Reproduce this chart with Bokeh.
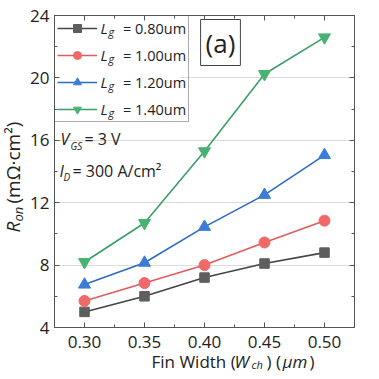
import math
from bokeh.plotting import figure
from bokeh.layouts import row, column
from bokeh.models import (FixedTicker, Range1d, LinearAxis, Legend, LegendItem, Label,
                          NumeralTickFormatter, BoxAnnotation)
from bokeh.embed import file_html
from bokeh.resources import INLINE

# ---- data ----
fin_width = [0.30, 0.35, 0.40, 0.45, 0.50]
lg_labels = ["0.80um", "1.00um", "1.20um", "1.40um"]
ron_080 = [5.0, 6.0, 7.2, 8.1, 8.8]
ron_100 = [5.7, 6.85, 8.0, 9.45, 10.85]
ron_120 = [6.75, 8.15, 10.45, 12.5, 15.05]
ron_140 = [8.2, 10.7, 15.3, 20.25, 22.6]
x_ticks = [0.30, 0.35, 0.40, 0.45, 0.50]
x_minor = [0.275, 0.325, 0.375, 0.425, 0.475, 0.525]
y_ticks = [4, 8, 12, 16, 20, 24]
y_minor = [6, 10, 14, 18, 22]
y_grid = [8, 12, 16, 20]

FONT = "Open Sans"
FRAME = "#555555"
TXT = "#222222"

p = figure(width=339, height=353, output_backend="svg", toolbar_location=None,
           x_range=Range1d(0.275, 0.525), y_range=Range1d(4, 24),
           min_border_left=30, min_border_right=9, min_border_top=15, min_border_bottom=26)
p.outline_line_color = FRAME
p.outline_line_width = 1

for ax, ticks, minor in [(p.xaxis[0], x_ticks, x_minor), (p.yaxis[0], y_ticks, y_minor)]:
    ax.ticker = FixedTicker(ticks=ticks, minor_ticks=minor)
    ax.axis_line_color = FRAME
    ax.major_tick_line_color = FRAME
    ax.minor_tick_line_color = FRAME
    ax.major_tick_in = 5
    ax.major_tick_out = 0
    ax.minor_tick_in = 3
    ax.minor_tick_out = 0
    ax.major_label_text_font = FONT
    ax.major_label_text_font_size = "17px"
    ax.major_label_text_color = TXT
p.xaxis[0].major_label_standoff = 8
p.yaxis[0].major_label_standoff = 5
p.xaxis[0].formatter = NumeralTickFormatter(format="0.00")

for loc, ticks, minor in [("above", x_ticks, x_minor), ("right", y_ticks, y_minor)]:
    ax = LinearAxis(ticker=FixedTicker(ticks=ticks, minor_ticks=minor),
                    major_label_overrides={t: "" for t in ticks}, major_label_standoff=0,
                    axis_line_color=FRAME, major_tick_line_color=FRAME,
                    minor_tick_line_color=FRAME, major_tick_in=5, major_tick_out=0,
                    minor_tick_in=3, minor_tick_out=0)
    p.add_layout(ax, loc)

p.xgrid.grid_line_color = None
p.ygrid.ticker = FixedTicker(ticks=y_grid)
p.ygrid.grid_line_color = "#dcdcdc"

# white backing for the legend box (hides the grid line behind it)
p.add_layout(BoxAnnotation(left=0, right=126, top=312, bottom=207,
                           left_units="screen", right_units="screen",
                           top_units="screen", bottom_units="screen",
                           fill_color="white", fill_alpha=1, line_color=None,
                           level="underlay"))

series = [
    (ron_080, "#444444", "#5e5e5e", "square", 9.5),
    (ron_100, "#e05c5c", "#f06868", "circle", 11),
    (ron_120, "#2c6cc4", "#3a7cd6", "triangle", 12),
    (ron_140, "#3a9e66", "#48b274", "inverted_triangle", 12),
]
items = []
for (vals, lc, mc, mk, sz), lab in zip(series, lg_labels):
    ln = p.line(fin_width, vals, line_color=lc, line_width=1.6)
    sc = p.scatter(fin_width, vals, marker=mk, size=sz, fill_color=mc, line_color=mc)
    items.append(LegendItem(label="= " + lab, renderers=[ln, sc]))

legend = Legend(items=items, location="top_left", margin=0, padding=2, spacing=7,
                glyph_width=40, glyph_height=20, label_height=20, label_standoff=26,
                label_text_font=FONT, label_text_font_size="14.5px", label_text_color=TXT,
                border_line_color=FRAME, border_line_width=1, background_fill_alpha=0)
p.add_layout(legend)


def txt(fig, x, y, s, size, italic=False, angle=0.0, baseline="middle"):
    fig.add_layout(Label(x=x, y=y, x_units="screen", y_units="screen", text=s,
                         text_font=FONT, text_font_size=size, text_color=TXT,
                         text_font_style="italic" if italic else "normal",
                         text_baseline=baseline, text_align="left", angle=angle,
                         level="overlay"))


# legend L_g
for sy in [300, 273, 246, 219]:
    txt(p, 46, sy, "L", "15px", italic=True)
    txt(p, 54, sy - 4, "g", "11px", italic=True)

# condition annotations
txt(p, 6, 189, "V", "16px", italic=True)
txt(p, 16, 182, "GS", "10px", italic=True)
txt(p, 30, 189, "= 3 V", "16px")
txt(p, 5, 157, "I", "16px", italic=True)
txt(p, 9, 151, "D", "10px", italic=True)
txt(p, 18, 157, "= 300 A/cm²", "16px")

# (a) box
p.add_layout(Label(x=166, y=285, x_units="screen", y_units="screen", text="(a)",
                   text_font=FONT, text_font_size="26px", text_color=TXT,
                   text_align="center", text_baseline="middle", padding=5,
                   border_line_color="#444444", border_line_width=1,
                   background_fill_color="white"))


def strip(w, h):
    f = figure(width=w, height=h, output_backend="svg", toolbar_location=None,
               x_axis_type=None, y_axis_type=None, min_border=0,
               min_border_left=0, min_border_right=0, min_border_top=0, min_border_bottom=0,
               x_range=Range1d(0, 1), y_range=Range1d(0, 1))
    f.outline_line_color = None
    return f


# x axis label strip
xs = strip(339, 18)
txt(xs, 97, 10, "Fin Width (", "17px")
txt(xs, 180, 10, "W", "17px", italic=True)
txt(xs, 197, 7, "ch", "11px", italic=True)
txt(xs, 212, 10, ") (", "17px")
txt(xs, 228, 10, "μm", "17px", italic=True)
txt(xs, 255, 10, ")", "17px")

# y axis label strip (rotated)
ys = strip(24, 371)
A = math.pi / 2
txt(ys, 12, 139, "R", "19px", italic=True, angle=A)
txt(ys, 17, 150, "on", "13px", italic=True, angle=A)
txt(ys, 12, 168, "(mΩ·cm²)", "19px", angle=A)

layout = row(ys, column(p, xs))
open("out.html", "w").write(file_html(layout, INLINE))
